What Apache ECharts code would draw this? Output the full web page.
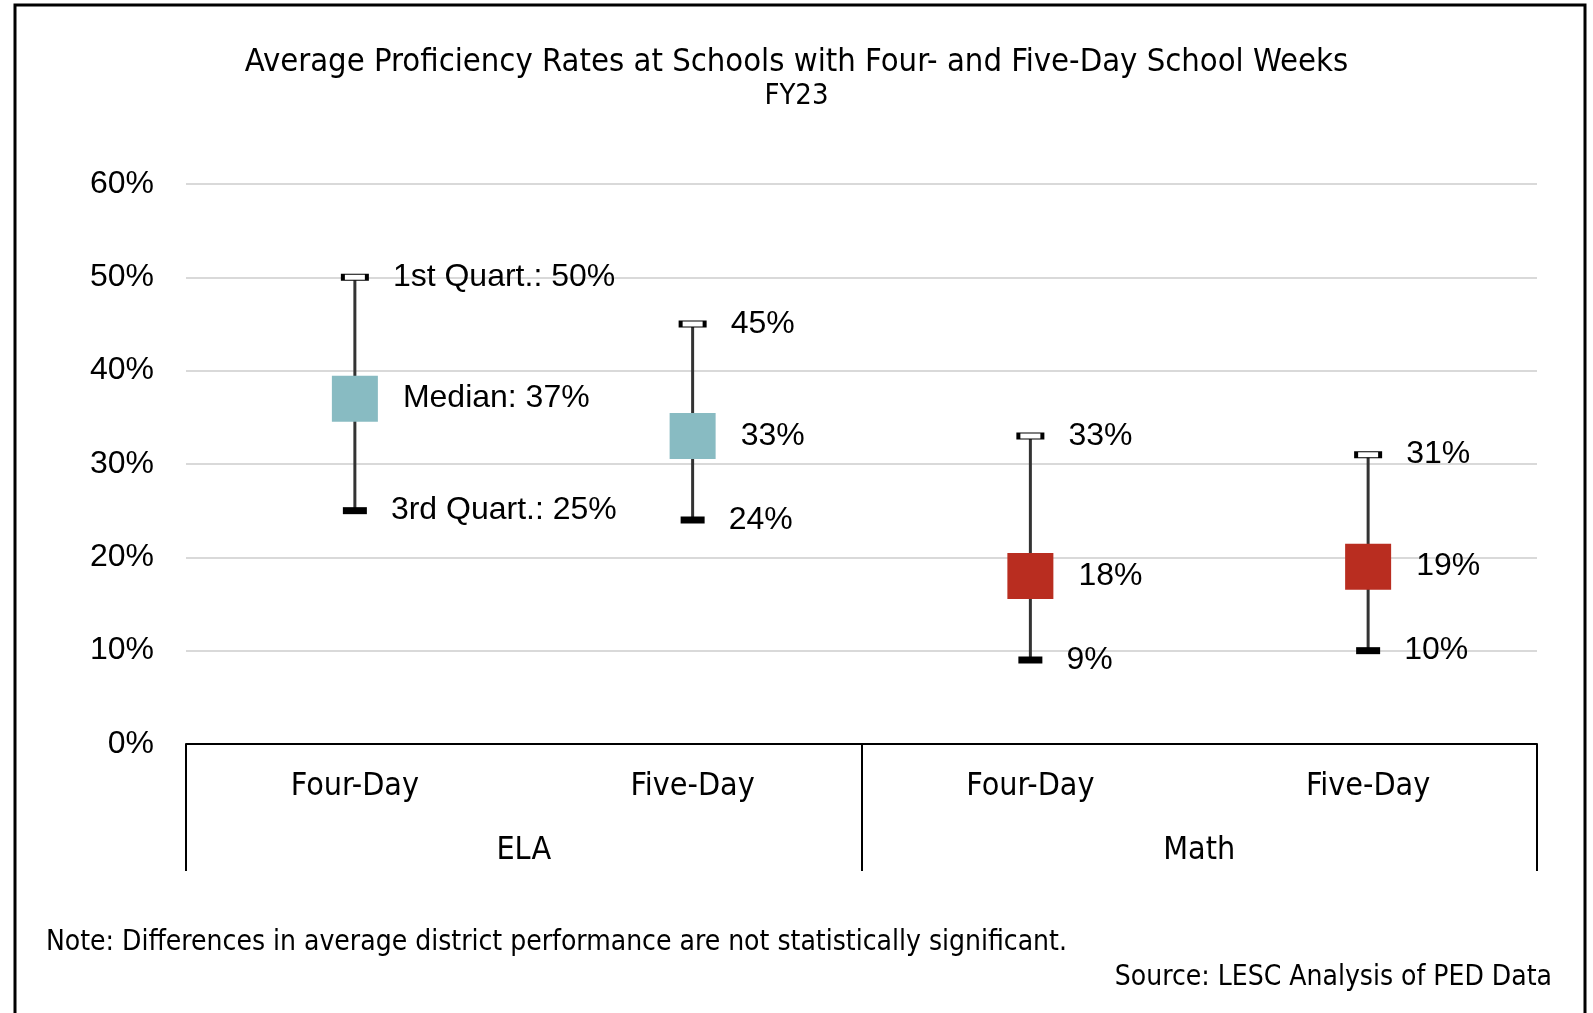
<!DOCTYPE html>
<html>
<head>
<meta charset="utf-8">
<script src="https://cdn.jsdelivr.net/npm/echarts@6/dist/echarts.min.js"></script>
<style>
html, body { margin: 0; padding: 0; background: #fff; }
#chart { width: 1593px; height: 1013px; }
</style>
</head>
<body>
<div id="chart"></div>
<script>
// categories (bottom level) and groups (top level)
const categories = ["Four-Day", "Five-Day", "Four-Day", "Five-Day"];
const groups = ["ELA", "Math"];
// values in percent
const q1Values = [50, 45, 33, 31];
const medianValues = [37, 33, 18, 19];
const q3Values = [25, 24, 9, 10];
const boxColors = ["#88bbc2", "#88bbc2", "#b92d20", "#b92d20"];
const yTicks = [0, 10, 20, 30, 40, 50, 60];

const labelFont = "Liberation Sans";
const narrowFont = "'DejaVu Sans Condensed', 'Liberation Sans'";

const chart = echarts.init(document.getElementById("chart"));

function pctLabel(prefix) {
	return function (p) {
		return (p.dataIndex === 0 ? prefix : "") + p.value[1] + "%";
	};
}

let option = {
	animation: false,
	title: {
		text: "Average Proficiency Rates at Schools with Four- and Five-Day School Weeks",
		subtext: "FY23",
		left: "center",
		top: 41,
		itemGap: 3,
		textStyle: { fontFamily: narrowFont, fontSize: 32.5, fontWeight: "normal", color: "#000" },
		subtextStyle: { fontFamily: narrowFont, fontSize: 29, color: "#000" },
	},
	grid: { left: 186, right: 56, top: 184, bottom: 269 },
	xAxis: [
		{
			type: "category",
			data: categories,
			axisLine: { lineStyle: { color: "#000", width: 2 } },
			axisTick: { show: false },
			axisLabel: { fontFamily: narrowFont, fontSize: 32, color: "#000", margin: 27 },
		},
		{
			type: "category",
			data: groups,
			position: "bottom",
			axisLine: { show: false },
			axisTick: { show: true, length: 127, interval: 0, lineStyle: { color: "#000", width: 2 } },
			axisLabel: { fontFamily: narrowFont, fontSize: 32, color: "#000", margin: 91 },
		},
	],
	yAxis: {
		type: "value",
		min: 0,
		max: 60,
		interval: 10,
		axisLine: { show: false },
		axisTick: { show: false },
		axisLabel: { formatter: "{value}%", fontFamily: labelFont, fontSize: 32, color: "#000", margin: 32 },
		splitLine: { lineStyle: { color: "#d9d9d9", width: 2 } },
	},
	series: [
		{
			// whiskers
			type: "custom",
			z: 1,
			data: categories.map((c, i) => [i, q1Values[i], q3Values[i]]),
			renderItem: function (params, api) {
				const top = api.coord([api.value(0), api.value(1)]);
				const bot = api.coord([api.value(0), api.value(2)]);
				return {
					type: "line",
					shape: { x1: top[0], y1: top[1], x2: bot[0], y2: bot[1] },
					style: { stroke: "#333", lineWidth: 3 },
				};
			},
		},
		{
			name: "1st Quart.",
			type: "scatter",
			z: 3,
			symbol: "rect",
			symbolSize: [24, 6],
			itemStyle: { color: "#fff", borderColor: "#000", borderWidth: 2, opacity: 1 },
			data: q1Values.map((v, i) => [i, v]),
			label: {
				show: true,
				position: "right",
				distance: 24,
				formatter: pctLabel("1st Quart.: "),
				fontFamily: labelFont,
				fontSize: 32,
				color: "#000",
			},
		},
		{
			name: "Median",
			type: "scatter",
			z: 3,
			symbol: "rect",
			symbolSize: 46,
			data: medianValues.map((v, i) => ({ value: [i, v], itemStyle: { color: boxColors[i], opacity: 1 } })),
			label: {
				show: true,
				position: "right",
				distance: 25,
				formatter: pctLabel("Median: "),
				fontFamily: labelFont,
				fontSize: 32,
				color: "#000",
			},
		},
		{
			name: "3rd Quart.",
			type: "scatter",
			z: 3,
			symbol: "rect",
			symbolSize: [24, 7],
			itemStyle: { color: "#000", opacity: 1 },
			data: q3Values.map((v, i) => [i, v]),
			label: {
				show: true,
				position: "right",
				distance: 24,
				formatter: pctLabel("3rd Quart.: "),
				fontFamily: labelFont,
				fontSize: 32,
				color: "#000",
			},
		},
	],
	graphic: [
		{
			type: "rect",
			shape: { x: 15, y: 5, width: 1570, height: 1100 },
			style: { fill: null, stroke: "#000", lineWidth: 3 },
			silent: true,
		},
		{
			type: "text",
			left: 46,
			top: 929,
			style: {
				text: "Note: Differences in average district performance are not statistically significant.",
				font: "28px " + narrowFont,
				fill: "#000",
			},
		},
		{
			type: "text",
			right: 41,
			top: 964,
			style: {
				text: "Source: LESC Analysis of PED Data",
				font: "28px " + narrowFont,
				fill: "#000",
			},
		},
	],
};
chart.setOption(option);
</script>
</body>
</html>
